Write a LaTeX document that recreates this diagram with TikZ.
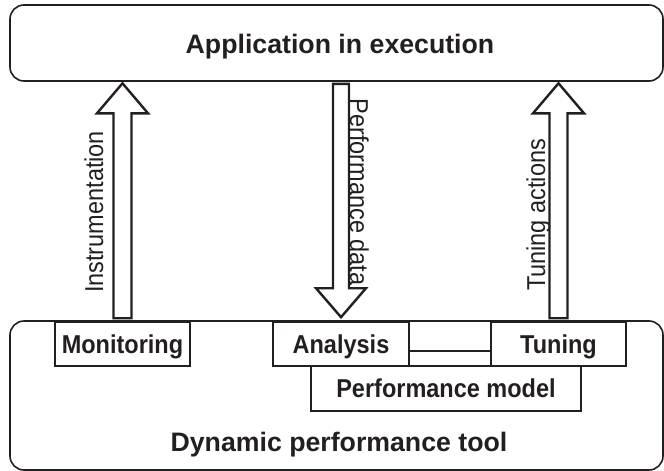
\documentclass[tikz,border=0pt]{standalone}
\usepackage{fontspec}
\usepackage{graphicx}
\setmainfont{Liberation Sans}
\usetikzlibrary{calc}
\definecolor{ink}{RGB}{35,31,32}
% slightly tall lettering for the smaller labels
\newcommand\talltext[1]{\scalebox{1}[1.1]{#1}}
\begin{document}
\begin{tikzpicture}[x=1pt,y=-1pt,
  panel/.style={draw=ink, line width=1.6pt, rounded corners=14pt, inner sep=0pt},
  unit/.style={draw=ink, line width=1.6pt, fill=white, inner sep=0pt,
    minimum height=44pt, text height=18.5pt, text depth=0pt, text=ink,
    font=\fontsize{23.5}{28}\selectfont\bfseries},
  fat/.style={draw=ink, line width=2.4pt, line join=miter, fill=white},
  lbl/.style={font=\fontsize{23.5}{28}\selectfont, inner sep=0pt, anchor=base, text=ink},
  heading/.style={font=\fontsize{26.7}{32}\selectfont\bfseries, inner sep=0pt, anchor=base, text=ink}]
\useasboundingbox (0,0) rectangle (664,471);

% the two enclosing panels
\node[panel, minimum width=653pt, minimum height=76pt] (app) at (336.5,43) {};
\node[panel, minimum width=653pt, minimum height=149pt] (tool) at (336.5,395.5) {};
\node[heading] (apptext) at (340,53) {Application in execution};
\node[heading] (tooltext) at (339,451) {Dynamic performance tool};

% modules of the tool
\node[unit, minimum width=270pt, minimum height=45pt] (pm) at (446,388.5) {\talltext{Performance model}};
\node[unit, minimum width=135pt] (mon) at (122.5,344) {\talltext{Monitoring}};
\node[unit, minimum width=136pt] (ana) at (341,344) {\talltext{Analysis}};
\node[unit, minimum width=135pt] (tun) at (558.5,344) {\talltext{Tuning}};
\draw[ink, line width=1.6pt] ($(ana.east)+(0,7)$) -- ($(tun.west)+(0,7)$);

% end points of the block arrows
\coordinate (itip)  at ($(mon.north |- app.south)+(0,1.5)$);
\coordinate (itail) at ($(mon.north)+(0,-3)$);
\coordinate (ttip)  at ($(tun.north |- app.south)+(0,1.5)$);
\coordinate (ttail) at ($(tun.north)+(0,-3)$);
\coordinate (ptip)  at ($(ana.north)+(0,-4)$);
\coordinate (ptail) at ($(ana.north |- app.south)+(0,2)$);

% upward block arrows
\foreach \t/\b in {itip/itail, ttip/ttail}{
  \draw[fat] let \p1=(\t), \p2=(\b) in
    (\x1,\y1) -- (\x1+25.5pt,\y1-30pt) -- (\x1+9pt,\y1-30pt) -- (\x1+9pt,\y2)
    -- (\x1-9pt,\y2) -- (\x1-9pt,\y1-30pt) -- (\x1-25.5pt,\y1-30pt) -- cycle;
}
% downward block arrow
\draw[fat] let \p1=(ptip), \p2=(ptail) in
  (\x1,\y1) -- (\x1+25pt,\y1+29pt) -- (\x1+8pt,\y1+29pt) -- (\x1+8pt,\y2)
  -- (\x1-8pt,\y2) -- (\x1-8pt,\y1+29pt) -- (\x1-25pt,\y1+29pt) -- cycle;

% arrow labels
\node[lbl, rotate=90] (instr) at (103,212) {\talltext{Instrumentation}};
\node[lbl, rotate=90] (tact) at (545,215) {\talltext{Tuning actions}};
\node[lbl, rotate=-90] (pdata) at (350,192) {\talltext{Performance data}};
\end{tikzpicture}
\end{document}
